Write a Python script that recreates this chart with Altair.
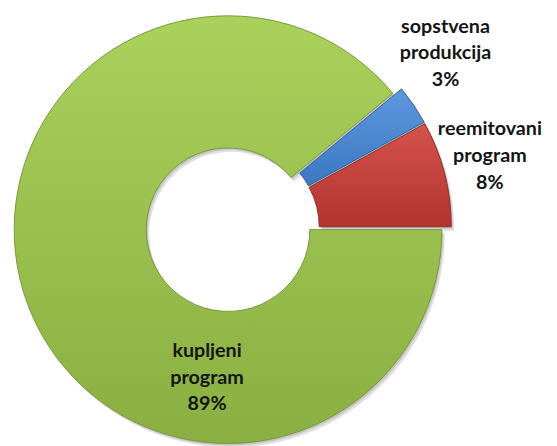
import math
import altair as alt
import pandas as pd

# ---- data ----
categories = ["kupljeni program", "sopstvena produkcija", "reemitovani program"]
values = [89, 3, 8]
order = [0, 1, 2]

# ---- styles / layout ----
fills_top = ["#A9D15B", "#5E98DE", "#D4534C"]
fills_bot = ["#8AAF42", "#3C77C2", "#B3342F"]
strokes = ["#78973A", "#2F5F9C", "#8E2B27"]
CX, CY = 228, 220
R_OUT, R_IN = 217, 83
EXPLODE = 5
START = math.pi / 2
label_pos = {  # label anchors (first line centre, chart pixels)
    "kupljeni program": (202, 345),
    "sopstvena produkcija": (444, 16),
    "reemitovani program": (489, 120),
}

labels = [c.replace(" ", "\n") + f"\n{v}%" for c, v in zip(categories, values)]
df = pd.DataFrame({
    "category": categories,
    "value": values,
    "order": order,
    "label": labels,
    "lx": [label_pos[c][0] for c in categories],
    "ly": [label_pos[c][1] for c in categories],
})

base = (
    alt.Chart(df)
    .transform_window(cum="sum(value)", frame=[None, 0], sort=[{"field": "order"}])
    .transform_joinaggregate(total="sum(value)")
    .transform_calculate(t1=f"{START} + 2*PI*datum.cum/datum.total")
    .transform_calculate(t0=f"{START} + 2*PI*(datum.cum - datum.value)/datum.total")
    .transform_calculate(mid="(datum.t0 + datum.t1)/2")
    .transform_calculate(cx=f"{CX} + {EXPLODE}*sin(datum.mid)")
    .transform_calculate(cy=f"{CY} - {EXPLODE}*cos(datum.mid)")
)

def arc_enc():
    return dict(
        theta=alt.Theta("t0:Q", scale=None),
        theta2="t1:Q",
        x=alt.X("sx:Q", scale=None),
        y=alt.Y("sy:Q", scale=None),
    )

shadow = (
    base.transform_calculate(sx="datum.cx + 3", sy="datum.cy + 4")
    .mark_arc(radius=R_OUT, radius2=R_IN, color="#000000", opacity=0.12)
    .encode(**arc_enc())
)
shadow2 = (
    base.transform_calculate(sx="datum.cx + 1.5", sy="datum.cy + 2")
    .mark_arc(radius=R_OUT, radius2=R_IN, color="#000000", opacity=0.12)
    .encode(**arc_enc())
)

layers = [shadow, shadow2]
for i, c in enumerate(categories):
    grad = alt.LinearGradient(
        gradient="linear",
        x1=0, y1=0, x2=0, y2=1,
        stops=[
            alt.GradientStop(color=fills_top[i], offset=0),
            alt.GradientStop(color=fills_bot[i], offset=1),
        ],
    )
    layers.append(
        base.transform_filter(alt.datum.category == c)
        .transform_calculate(sx="datum.cx", sy="datum.cy")
        .mark_arc(radius=R_OUT, radius2=R_IN, fill=grad, stroke=strokes[i], strokeWidth=1)
        .encode(**arc_enc())
    )

text = (
    alt.Chart(df)
    .mark_text(
        font="Lato", fontWeight="bold", fontSize=20, lineHeight=27,
        lineBreak="\n", align="center", baseline="middle", color="#141414",
    )
    .encode(
        x=alt.X("lx:Q", scale=None),
        y=alt.Y("ly:Q", scale=None),
        text="label:N",
    )
)
layers.append(text)

chart = (
    alt.layer(*layers)
    .properties(width=549, height=438, padding=0,
                autosize=alt.AutoSizeParams(type="fit", contains="padding"))
    .configure_view(stroke=None)
)

chart.save("out.html", embed_options={"renderer": "svg", "actions": False})
